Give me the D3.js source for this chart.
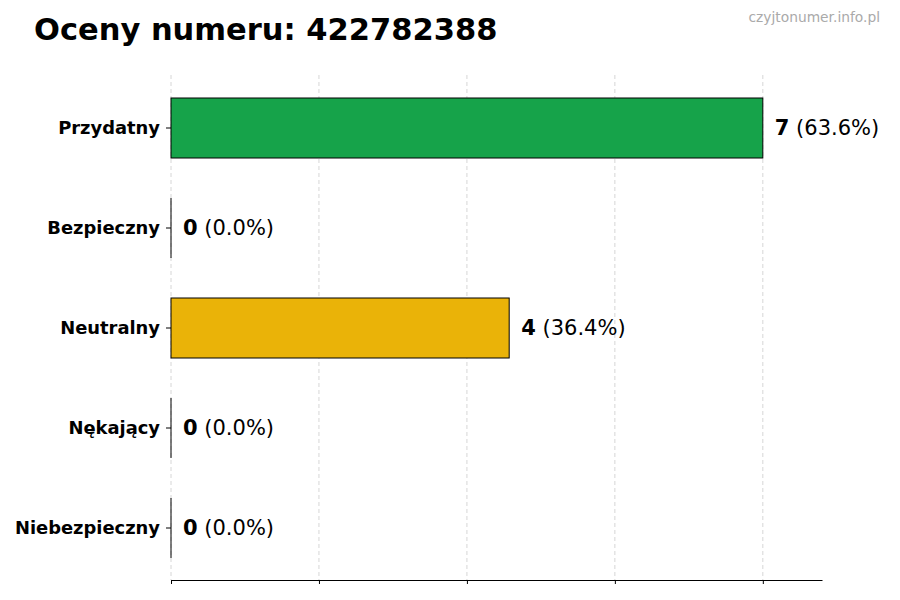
<!DOCTYPE html>
<html>
<head>
<meta charset="utf-8">
<script src="https://cdn.jsdelivr.net/npm/d3@7"></script>
<style>
  body { margin: 0; background: #fff; }
  text { font-family: "DejaVu Sans", sans-serif; }
</style>
</head>
<body>
<div id="chart"></div>
<script>
// Ratings of the number, top to bottom
var categories = ['Przydatny', 'Bezpieczny', 'Neutralny', 'Nękający', 'Niebezpieczny'];
var counts = [7, 0, 4, 0, 0];
var colors = ['#16a34a', '#3b82f6', '#eab308', '#f97316', '#dc2626'];
var xTicks = [0, 1.75, 3.5, 5.25, 7];

var width = 900, height = 600;
var margin = { top: 75, right: 78, bottom: 20, left: 171 };

var total = d3.sum(counts);
var maxVal = d3.max(counts);

var svg = d3.select('#chart')
	.append('svg')
	.attr('width', width)
	.attr('height', height);

var x = d3.scaleLinear()
	.domain([0, maxVal * 1.1])
	.range([margin.left, width - margin.right]);

var y = d3.scaleBand()
	.domain(categories)
	.range([margin.top, height - margin.bottom + 1])
	.paddingInner(0.4)
	.paddingOuter(0.23);

// dashed vertical grid
svg.append('g')
	.selectAll('line')
	.data(xTicks)
	.enter()
	.append('line')
	.attr('x1', function(d) { return x(d); })
	.attr('x2', function(d) { return x(d); })
	.attr('y1', margin.top)
	.attr('y2', height - margin.bottom)
	.attr('stroke', '#cccccc')
	.attr('stroke-width', 0.8)
	.attr('stroke-dasharray', '4,3');

// bars
svg.append('g')
	.selectAll('rect')
	.data(counts)
	.enter()
	.append('rect')
	.attr('x', x(0))
	.attr('y', function(d, i) { return y(categories[i]); })
	.attr('width', function(d) { return x(d) - x(0); })
	.attr('height', y.bandwidth())
	.attr('fill', function(d, i) { return colors[i]; })
	.attr('stroke', '#000')
	.attr('stroke-width', 1);

// zero-width bars still show their edge
counts.forEach(function(d, i) {
	if (d !== 0) return;
	svg.append('line')
		.attr('x1', x(0))
		.attr('x2', x(0))
		.attr('y1', y(categories[i]))
		.attr('y2', y(categories[i]) + y.bandwidth())
		.attr('stroke', '#000')
		.attr('stroke-width', 1);
});

// value labels
var labels = svg.append('g')
	.selectAll('text')
	.data(counts)
	.enter()
	.append('text')
	.attr('x', function(d) { return x(d) + 12; })
	.attr('y', function(d, i) { return y(categories[i]) + y.bandwidth() / 2; })
	.attr('dy', '0.35em')
	.attr('font-size', '21px')
	.attr('fill', '#000');

labels.append('tspan')
	.attr('font-weight', 'bold')
	.text(function(d) { return d; });
labels.append('tspan')
	.text(function(d) { return ' (' + (total ? d / total * 100 : 0).toFixed(1) + '%)'; });

// x axis, no labels
var xAxis = svg.append('g')
	.attr('transform', 'translate(0,' + (height - margin.bottom) + ')')
	.call(d3.axisBottom(x).tickValues(xTicks).tickFormat('').tickSizeOuter(0).tickSizeInner(4));
xAxis.select('.domain').attr('stroke', '#000').attr('stroke-width', 1.2);
xAxis.selectAll('.tick line').attr('stroke', '#000').attr('stroke-width', 1);

// y axis, ticks and bold labels only
var yAxis = svg.append('g')
	.attr('transform', 'translate(' + margin.left + ',0)')
	.call(d3.axisLeft(y).tickSizeOuter(0).tickSizeInner(5).tickPadding(6));
yAxis.select('.domain').remove();
yAxis.selectAll('.tick line').attr('stroke', '#000');
yAxis.selectAll('.tick text')
	.attr('font-family', '"DejaVu Sans", sans-serif')
	.attr('font-size', '17.9px')
	.attr('font-weight', 'bold')
	.attr('fill', '#000');

// title and watermark
svg.append('text')
	.attr('x', 34)
	.attr('y', 40)
	.attr('font-size', '30.5px')
	.attr('font-weight', 'bold')
	.attr('fill', '#000')
	.text('Oceny numeru: 422782388');

svg.append('text')
	.attr('x', 880)
	.attr('y', 22)
	.attr('text-anchor', 'end')
	.attr('font-size', '13.8px')
	.attr('fill', '#aaaaaa')
	.text('czyjtonumer.info.pl');
</script>
</body>
</html>
